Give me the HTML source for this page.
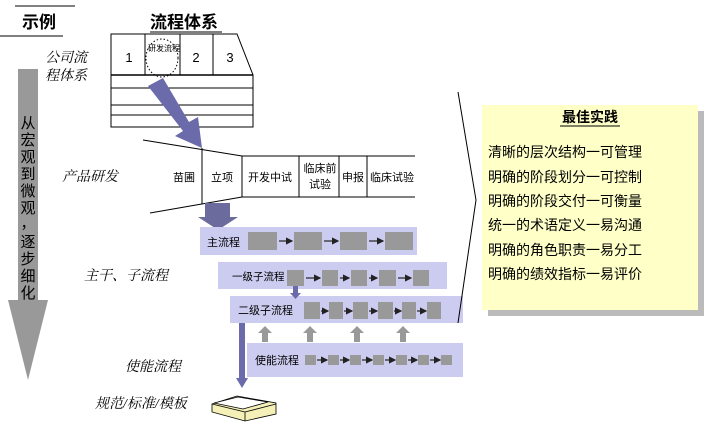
<!DOCTYPE html>
<html><head><meta charset="utf-8"><style>
html,body{margin:0;padding:0;background:#fff;}
svg{display:block;font-family:"Liberation Sans","Noto Sans CJK SC",sans-serif;}
.it{font-style:italic;font-family:"Liberation Serif","Noto Serif CJK SC",serif;}
</style></head><body>
<svg width="709" height="424" viewBox="0 0 709 424" xmlns="http://www.w3.org/2000/svg">
<defs>
<marker id="ah" markerWidth="6" markerHeight="6" refX="5" refY="3" orient="auto"><path d="M0,0 L6,3 L0,6 z" fill="#222"/></marker>
</defs>
<line x1="15" y1="6" x2="75" y2="6" stroke="#000"/>
<text x="22" y="28" font-size="17" font-weight="bold">示例</text>
<line x1="0" y1="36" x2="63" y2="36" stroke="#000"/>
<path d="M18,69 H38 V300 H48 L28,380 L8,300 H18 Z" fill="#999"/>
<g font-size="15" fill="#000" text-anchor="middle">
<text x="28" y="128">从</text><text x="28" y="145">宏</text><text x="28" y="162">观</text><text x="28" y="179">到</text><text x="28" y="196">微</text><text x="28" y="213">观</text><text x="28" y="228">，</text><text x="28" y="247">逐</text><text x="28" y="264">步</text><text x="28" y="281">细</text><text x="28" y="298">化</text>
</g>
<text x="150" y="28" font-size="17" font-weight="bold">流程体系</text>
<line x1="150" y1="32" x2="222" y2="32" stroke="#000"/>
<text class="it" x="45" y="62" font-size="14">公司流</text>
<text class="it" x="45" y="80" font-size="14">程体系</text>
<path d="M111,34 H237 L253,75 V127 H111 Z" fill="#fff" stroke="#000"/>
<line x1="111" y1="75" x2="253" y2="75" stroke="#000" stroke-width="1.5"/>
<line x1="111" y1="88" x2="253" y2="88" stroke="#000"/>
<line x1="111" y1="105" x2="253" y2="105" stroke="#000"/>
<line x1="111" y1="115" x2="253" y2="115" stroke="#000"/>
<line x1="145" y1="34" x2="145" y2="75" stroke="#000"/>
<line x1="180" y1="34" x2="180" y2="75" stroke="#000"/>
<line x1="213" y1="34" x2="213" y2="75" stroke="#000"/>
<ellipse cx="162" cy="58" rx="16" ry="19" fill="none" stroke="#000" stroke-dasharray="1.5,2"/>
<text x="148" y="51" font-size="8">研发流程</text>
<g font-size="13" text-anchor="middle"><text x="129" y="62">1</text><text x="196" y="62">2</text><text x="230" y="62">3</text></g>
<path d="M148,86 L163,78 L189,122 L198,117 L202,148 L175,136 L183,131 Z" fill="#6b6bab"/>
<g stroke="#000" stroke-width="1" fill="none">
<line x1="143" y1="140" x2="242" y2="156"/>
<line x1="242" y1="156" x2="415" y2="156"/>
<line x1="150" y1="213" x2="242" y2="197"/>
<line x1="242" y1="197" x2="415" y2="197"/>
<line x1="202" y1="148" x2="202" y2="204"/>
<line x1="242" y1="156" x2="242" y2="197"/>
<line x1="299" y1="156" x2="299" y2="197"/>
<line x1="339" y1="156" x2="339" y2="197"/>
<line x1="367" y1="156" x2="367" y2="197"/>
</g>
<g font-size="11" text-anchor="middle">
<text x="184" y="181">苗圃</text><text x="222" y="181">立项</text><text x="270" y="181">开发中试</text>
<text x="320" y="172">临床前</text><text x="320" y="188">试验</text>
<text x="353" y="181">申报</text><text x="392" y="181">临床试验</text>
</g>
<text class="it" x="62" y="181" font-size="14">产品研发</text>
<path d="M205,203 H230 V217 H238 L218,230 L198,217 H205 Z" fill="#6b6b9e"/>
<rect x="200" y="227" width="217" height="28" fill="#ccccf0"/>
<rect x="218" y="262" width="229" height="27" fill="#ccccf0"/>
<rect x="230" y="296" width="233" height="27" fill="#ccccf0"/>
<rect x="247" y="343" width="216" height="34" fill="#ccccf0"/>
<g font-size="11">
<text x="207" y="246">主流程</text>
<text x="232" y="280" font-size="10.5">一级子流程</text>
<text x="238" y="314">二级子流程</text>
<text x="255" y="364">使能流程</text>
</g>
<g fill="#999">
<rect x="248" y="232" width="29" height="18"/><rect x="294" y="232" width="28" height="18"/><rect x="340" y="232" width="27" height="18"/><rect x="385" y="232" width="28" height="18"/>
<rect x="287" y="270" width="17" height="16"/><rect x="322" y="270" width="16" height="16"/><rect x="351" y="270" width="16" height="16"/><rect x="379" y="270" width="17" height="16"/><rect x="413" y="270" width="16" height="16"/>
<rect x="304" y="302" width="16" height="17"/><rect x="329" y="302" width="14" height="17"/><rect x="353" y="302" width="15" height="17"/><rect x="378" y="302" width="15" height="17"/><rect x="402" y="302" width="14" height="17"/><rect x="427" y="302" width="14" height="17"/>
<rect x="305" y="355" width="11" height="10"/><rect x="328" y="355" width="11" height="10"/><rect x="350" y="355" width="11" height="10"/><rect x="373" y="355" width="11" height="10"/><rect x="396" y="355" width="11" height="10"/><rect x="418" y="355" width="11" height="10"/><rect x="441" y="355" width="11" height="10"/>
</g>
<g stroke="#222" stroke-width="1.2" marker-end="url(#ah)">
<line x1="279" y1="241" x2="292" y2="241"/><line x1="324" y1="241" x2="338" y2="241"/><line x1="369" y1="241" x2="383" y2="241"/>
<line x1="306" y1="278" x2="320" y2="278"/><line x1="340" y1="278" x2="349" y2="278"/><line x1="369" y1="278" x2="377" y2="278"/><line x1="398" y1="278" x2="411" y2="278"/>
<line x1="321" y1="311" x2="328" y2="311"/><line x1="344" y1="311" x2="352" y2="311"/><line x1="369" y1="311" x2="377" y2="311"/><line x1="394" y1="311" x2="401" y2="311"/><line x1="417" y1="311" x2="426" y2="311"/>
<line x1="317" y1="360" x2="327" y2="360"/><line x1="340" y1="360" x2="349" y2="360"/><line x1="362" y1="360" x2="372" y2="360"/><line x1="385" y1="360" x2="395" y2="360"/><line x1="408" y1="360" x2="417" y2="360"/><line x1="430" y1="360" x2="440" y2="360"/>
</g>
<path d="M293,286 H298 V293 H301 L295.5,299 L290,293 H293 Z" fill="#6b6bab"/>
<g fill="#999">
<path d="M262,342 V333 H258 L265,326 L272,333 H268 V342 Z"/>
<path d="M307,342 V333 H303 L310,326 L317,333 H313 V342 Z"/>
<path d="M354,342 V333 H350 L357,326 L364,333 H360 V342 Z"/>
<path d="M400,342 V333 H396 L403,326 L410,333 H406 V342 Z"/>
</g>
<path d="M239,323 H245 V378 H248 L242,388 L236,378 H239 Z" fill="#6b6bab"/>
<text class="it" x="84" y="280" font-size="14">主干、子流程</text>
<text class="it" x="125" y="371" font-size="14">使能流程</text>
<text class="it" x="95" y="408" font-size="14">规范/标准/模板</text>
<path d="M212,404 L237,396 L276,403 L276,414 L245,421 L212,412 Z" fill="#f4f0b8" stroke="#000" stroke-width="0.8"/>
<path d="M214,403 L238,397 L268,402 L243,409 Z" fill="#fff" stroke="#000" stroke-width="0.8"/>
<line x1="212" y1="404" x2="245" y2="412" stroke="#000" stroke-width="0.8"/><line x1="245" y1="412" x2="276" y2="404" stroke="#000" stroke-width="0.8"/><line x1="245" y1="412" x2="245" y2="421" stroke="#000" stroke-width="0.8"/>
<polyline points="458,92 476,200 458,323" fill="none" stroke="#000"/>
<rect x="488" y="111" width="216" height="205" fill="#bbb"/>
<rect x="482" y="105" width="216" height="205" fill="#ffffc8"/>
<text x="590" y="122" font-size="14" font-weight="bold" text-anchor="middle">最佳实践</text>
<line x1="560" y1="126" x2="620" y2="126" stroke="#000"/>
<g font-size="14">
<text x="488" y="157">清晰的层次结构一可管理</text>
<text x="488" y="182">明确的阶段划分一可控制</text>
<text x="488" y="206">明确的阶段交付一可衡量</text>
<text x="488" y="230">统一的术语定义一易沟通</text>
<text x="488" y="255">明确的角色职责一易分工</text>
<text x="488" y="279">明确的绩效指标一易评价</text>
</g>
</svg>
</body></html>
